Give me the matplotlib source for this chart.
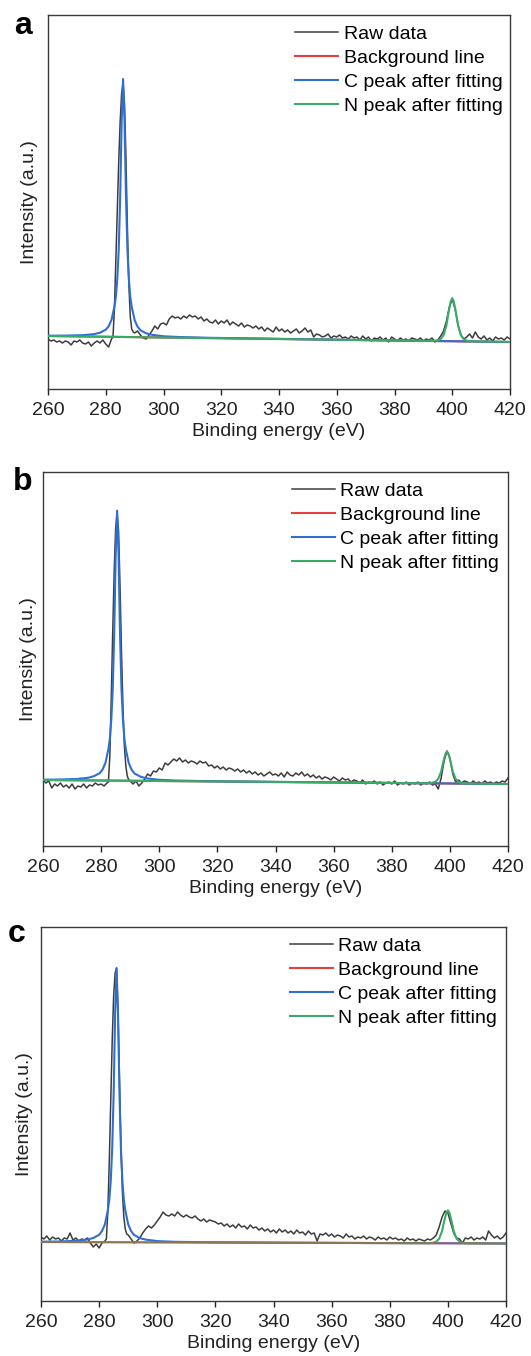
import matplotlib
matplotlib.use('Agg')
import matplotlib.pyplot as plt
import numpy as np

plt.rcParams['font.family'] = ['Liberation Sans', 'DejaVu Sans']
plt.rcParams['font.size'] = 14

# raw spectra: 260-282 eV (1 eV), 282.5-289.5 eV (0.5 eV), 290-420 eV (1 eV)
raw_x = np.concatenate([np.arange(260, 283, 1.0), np.arange(282.5, 290, 0.5), np.arange(290, 421, 1.0)])

raw_a_left = [50, 48, 49, 47, 48, 46, 48, 47, 44, 48, 47, 49, 46, 45, 47, 43, 46, 48, 46, 49, 45, 42, 50]
raw_a_peak = [52, 80, 130, 180, 228, 268, 296, 306, 285, 230, 160, 105, 72, 60, 57]
raw_a_right = [56, 58, 54, 51, 50, 54, 58, 63, 60, 65,
               66, 64, 70, 73, 71, 72, 70, 73, 71, 74,
               72, 73, 70, 72, 68, 70, 67, 66, 69, 65,
               68, 66, 69, 64, 67, 65, 63, 66, 62, 64,
               63, 61, 63, 60, 62, 58, 61, 59, 57, 62,
               58, 60, 57, 59, 56, 58, 60, 56, 58, 61,
               57, 59, 52, 55, 54, 52, 53, 55, 51, 53,
               52, 54, 51, 52, 50, 53, 51, 52, 49, 53,
               50, 52, 48, 51, 50, 52, 49, 51, 47, 52,
               50, 48, 51, 49, 50, 48, 51, 50, 49, 51,
               48, 50, 49, 51, 47, 49, 53, 58, 68, 82,
               90, 80, 64, 54, 50, 52, 55, 51, 57, 52,
               50, 53, 49, 51, 48, 52, 50, 51, 49, 52,
               50]

raw_b_left = [66, 63, 65, 58, 62, 60, 63, 59, 61, 58, 62, 57, 60, 59, 62, 58, 61, 60, 63, 61, 62, 60, 63]
raw_b_peak = [64, 90, 150, 215, 275, 318, 333, 315, 260, 195, 140, 100, 80, 70, 66]
raw_b_right = [65, 62, 65, 60, 63, 67, 72, 70, 75, 74,
               78, 76, 83, 81, 84, 87, 85, 88, 84, 86,
               83, 85, 84, 82, 85, 83, 84, 80, 81, 78,
               80, 77, 79, 76, 78, 77, 75, 77, 74, 76,
               73, 75, 72, 74, 71, 73, 70, 72, 74, 71,
               72, 70, 73, 69, 74, 71, 70, 73, 71, 74,
               70, 72, 69, 71, 68, 70, 67, 69, 68, 66,
               69, 67, 65, 68, 66, 67, 64, 66, 65, 63,
               66, 62, 64, 63, 65, 62, 64, 61, 63, 64,
               62, 65, 61, 63, 62, 64, 61, 63, 62, 64,
               61, 63, 62, 64, 61, 62, 57, 68, 85, 95,
               88, 72, 64, 66, 63, 65, 64, 62, 65, 63,
               64, 62, 65, 63, 64, 62, 64, 63, 65, 64,
               68]

raw_c_left = [64, 62, 65, 61, 64, 62, 63, 60, 63, 62, 68, 61, 63, 60, 62, 61, 63, 58, 54, 57, 53, 58, 60]
raw_c_peak = [62, 90, 140, 200, 260, 305, 328, 333, 290, 220, 155, 110, 84, 72, 67]
raw_c_right = [66, 62, 58, 60, 63, 68, 72, 75, 73, 76,
               80, 84, 89, 86, 85, 87, 85, 89, 86, 84,
               86, 84, 83, 85, 82, 80, 82, 79, 81, 80,
               79, 77, 78, 75, 77, 74, 76, 73, 77, 74,
               75, 72, 76, 73, 74, 71, 73, 70, 72, 69,
               71, 68, 72, 69, 71, 68, 70, 67, 71, 68,
               69, 66, 70, 67, 68, 60, 67, 66, 68, 65,
               67, 64, 66, 65, 63, 67, 64, 65, 62, 64,
               63, 65, 62, 64, 63, 61, 64, 62, 63, 61,
               64, 62, 63, 61, 62, 60, 63, 61, 62, 60,
               62, 61, 60, 62, 61, 63, 66, 74, 84, 90,
               88, 78, 68, 63, 62, 58, 63, 62, 64, 61,
               63, 62, 64, 61, 70, 66, 63, 65, 62, 64,
               68]

# background lines (end points)
bg_x = [260, 420]
bg_a = [53, 47]
bg_b = [66, 62]
bg_c = [59, 57.5]

# C peak after fitting (background + C component)
c_x_a = [260, 266, 272, 276, 278, 280, 281, 282, 283, 283.5, 284, 284.5, 285, 285.5, 286, 286.5,
         287, 287.5, 288, 288.5, 289, 290, 291, 292, 294, 296, 300, 306, 316, 346, 420]
c_a = [53.3, 53.4, 53.8, 54.9, 56.3, 59.3, 62.7, 69.2, 82.2, 92.1, 110, 140, 192, 267, 310, 267,
       192, 140, 110, 92, 82, 68.9, 62.4, 58.8, 55.7, 54.2, 52.7, 51.9, 51.2, 49.9, 47.0]
c_x_b = [260, 265.5, 271.5, 275.5, 277.5, 279.5, 280.5, 281.5, 282.5, 283, 283.5, 284, 284.5, 285, 285.5, 286,
         286.5, 287, 287.5, 288, 288.5, 289.5, 290.5, 291.5, 293.5, 295.5, 299.5, 305.5, 315.5, 345.5, 420]
c_b = [66.3, 66.5, 67.0, 68.2, 69.8, 72.8, 76.5, 83.3, 96.8, 107.4, 126.4, 157.4, 212.4, 290.4, 335.4, 290.4,
       212.3, 157.3, 126.3, 107.3, 96.7, 83.1, 76.2, 72.5, 69.4, 67.7, 66.3, 65.5, 64.9, 64.0, 62.0]
c_x_c = c_x_a
c_c = [59.3, 59.5, 60.2, 61.5, 63.0, 66.2, 70.0, 76.8, 90.8, 101.3, 120.4, 152.3, 207.5, 286.8, 332.8, 286.8,
       207.5, 152.2, 120.3, 101.2, 90.7, 76.7, 69.9, 66.1, 62.9, 61.4, 59.9, 59.2, 58.8, 58.3, 57.5]

# N peak after fitting (background + N component)
n_x_a = [260, 390, 394, 395, 396, 397, 398, 398.5, 399, 399.5, 400, 400.5, 401, 401.5, 402, 403, 404, 405, 406, 410, 420]
n_a = [53, 48.1, 48.3, 48.7, 50.1, 53.9, 63.8, 72.8, 80.8, 87.8, 90.8, 87.7, 80.7, 72.7, 63.7, 53.7, 49.8, 48.4, 47.8, 47.4, 47.0]
n_x_b = [260, 389, 393, 394, 395, 396, 397, 397.5, 398, 398.5, 399, 399.5, 400, 400.5, 401, 402, 403, 404, 405, 409, 420]
n_b = [66, 62.8, 62.9, 63.3, 64.2, 67.1, 74.5, 81.2, 87.2, 92.3, 94.5, 92.3, 87.1, 81.1, 74.4, 67.0, 64.0, 63.0, 62.6, 62.3, 62.0]
n_x_c = n_x_a
n_c = [59, 57.8, 57.9, 58.3, 59.4, 62.3, 70.0, 76.9, 83.0, 88.4, 90.7, 88.4, 83.0, 76.9, 70.0, 62.3, 59.4, 58.2, 57.8, 57.6, 57.5]

labels = ['Raw data', 'Background line', 'C peak after fitting', 'N peak after fitting']
gray = '#3d3d3d'
red = '#e5403b'
blue = '#2f6fd3'
green = '#3aaa68'

panels = [
    ('a', [48, 15, 462], raw_a_left + raw_a_peak + raw_a_right, bg_a, c_x_a, c_a, n_x_a, n_a, -0.022, (14, 34)),
    ('b', [43, 472, 465], raw_b_left + raw_b_peak + raw_b_right, bg_b, c_x_b, c_b, n_x_b, n_b, -0.012, (13, 490)),
    ('c', [41, 927, 465], raw_c_left + raw_c_peak + raw_c_right, bg_c, c_x_c, c_c, n_x_c, n_c, -0.018, (8, 942)),
]

W, H = 531, 1356
fig = plt.figure(figsize=(W / 100, H / 100), dpi=100)

for name, (left, top, width), raw, bg, cx, cy, nx, ny, ylab_x, lab_pos in panels:
    ax = fig.add_axes([left / W, 1 - (top + 374) / H, width / W, 374 / H])
    l_raw, = ax.plot(raw_x, raw, color=gray, lw=1.1, zorder=2)
    if name == 'c':
        l_c, = ax.plot(cx, cy, color=blue, lw=1.5, zorder=3)
        l_n, = ax.plot(nx, ny, color=green, lw=1.5, zorder=4)
        ax.plot(bg_x, bg, color=red, lw=1.5, alpha=0.5, zorder=5)
        l_bg, = ax.plot([], [], color=red, lw=1.5)
    else:
        l_bg, = ax.plot(bg_x, bg, color=red, lw=1.5, zorder=3)
        l_c, = ax.plot(cx, cy, color=blue, lw=1.5, zorder=4)
        l_n, = ax.plot(nx, ny, color=green, lw=1.5, zorder=5)
    ax.set_xlim(260, 420)
    ax.set_ylim(0, 374)
    ax.set_xticks(range(260, 421, 20))
    ax.set_yticks([])
    ax.tick_params(axis='x', direction='out', length=4.5, width=1, pad=5, colors='#222222')
    for s in ax.spines.values():
        s.set_color('#3a3a3a')
        s.set_linewidth(1.0)
    ax.set_xlabel('Binding energy (eV)', labelpad=3, color='#222222')
    ax.set_ylabel('Intensity (a.u.)', color='#222222')
    ax.yaxis.set_label_coords(ylab_x, 0.5)
    ax.legend([l_raw, l_bg, l_c, l_n], labels, loc='upper left', bbox_to_anchor=(0.535, 0.972),
              frameon=False, handlelength=2.2, handletextpad=0.3, labelspacing=0.32,
              borderaxespad=0, borderpad=0)
    fig.text(lab_pos[0] / W, 1 - lab_pos[1] / H, name, fontsize=23, fontweight='bold',
             ha='left', va='baseline')

fig.savefig('out.png', dpi=100)
